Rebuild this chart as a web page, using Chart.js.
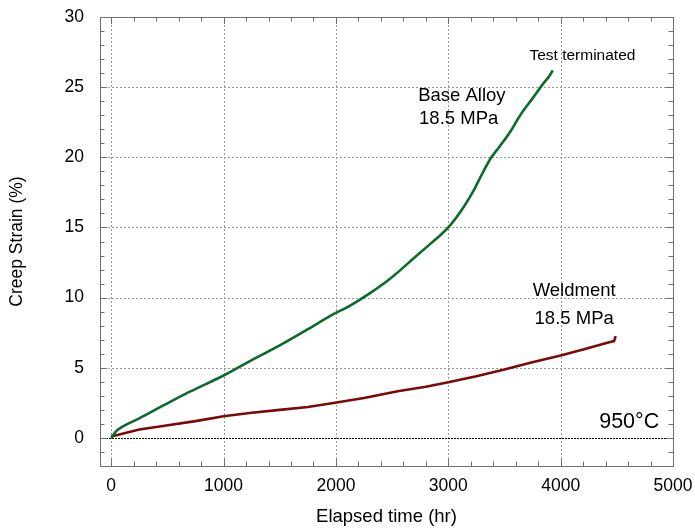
<!DOCTYPE html>
<html>
<head>
<meta charset="utf-8">
<script src="https://cdn.jsdelivr.net/npm/chart.js@4/dist/chart.umd.min.js"></script>
<style>
  body { margin: 0; background: #fff; }
  #wrap { width: 695px; height: 529px; }
</style>
</head>
<body>
<div id="wrap"><canvas id="creepChart" width="695" height="529"></canvas></div>
<script>
// elapsed time (hr) / creep strain (%)
const baseHours = [0, 40, 100, 250, 460, 700, 1000, 1250, 1500, 1750, 1950, 2130, 2300, 2490, 2720, 2850, 3000, 3140, 3230, 3300, 3375, 3450, 3550, 3640, 3750, 3840, 3900, 3930];
const baseStrain = [0, 0.45, 0.8, 1.4, 2.3, 3.3, 4.45, 5.55, 6.6, 7.75, 8.7, 9.45, 10.3, 11.4, 13.0, 13.9, 15.0, 16.5, 17.7, 18.8, 19.9, 20.7, 21.8, 23.0, 24.2, 25.2, 25.8, 26.2];

const weldHours = [0, 250, 460, 750, 1000, 1250, 1500, 1750, 1950, 2250, 2550, 2800, 3000, 3250, 3500, 3730, 4000, 4200, 4440, 4475, 4490];
const weldStrain = [0.1, 0.6, 0.85, 1.2, 1.55, 1.8, 2.0, 2.2, 2.45, 2.85, 3.33, 3.65, 3.97, 4.4, 4.88, 5.36, 5.88, 6.3, 6.83, 6.9, 7.26];

const xTicks = [0, 1000, 2000, 3000, 4000, 5000];
const yTicks = [0, 5, 10, 15, 20, 25, 30];

const notes = [
  { text: 'Test terminated', x: 3722, y: 27.26, size: 15.5 },
  { text: 'Base Alloy', x: 2732, y: 24.4, size: 18.5 },
  { text: '18.5 MPa', x: 2740, y: 22.74, size: 18.5 },
  { text: 'Weldment', x: 3751, y: 10.47, size: 18.5 },
  { text: '18.5 MPa', x: 3768, y: 8.5, size: 18.5 },
  { text: '950\u00B0C', x: 4877, y: 1.14, size: 21.5, align: 'right' }
];

const FONT = '"Liberation Sans", Arial, sans-serif';

function toPoints(xs, ys) {
  return xs.map((v, i) => ({ x: v, y: ys[i] }));
}

// grid, zero line and inward ticks on all four sides
const framePlugin = {
  id: 'framePlugin',
  beforeDatasetsDraw(chart) {
    const { ctx, chartArea: a, scales: { x, y } } = chart;
    const seg = (x1, y1, x2, y2) => { ctx.beginPath(); ctx.moveTo(x1, y1); ctx.lineTo(x2, y2); ctx.stroke(); };
    ctx.save();
    ctx.lineWidth = 1;
    ctx.strokeStyle = '#9a9a9a';
    ctx.setLineDash([2, 2]);
    xTicks.forEach(v => {
      const px = Math.round(x.getPixelForValue(v)) + 0.5;
      seg(px, a.top, px, a.bottom);
    });
    yTicks.forEach(v => {
      if (v === 0) return;
      const py = Math.round(y.getPixelForValue(v)) + 0.5;
      seg(a.left, py, a.right, py);
    });
    ctx.strokeStyle = '#000';
    ctx.setLineDash([2, 1]);
    const zy = Math.round(y.getPixelForValue(0)) + 0.5;
    seg(a.left, zy, a.right, zy);

    ctx.setLineDash([]);
    ctx.strokeStyle = '#6e6e6e';
    for (let v = 0; v <= 5000; v += 200) {
      const px = Math.round(x.getPixelForValue(v)) + 0.5;
      const len = v % 1000 === 0 ? 7 : 4.5;
      seg(px, a.bottom, px, a.bottom - len);
      seg(px, a.top, px, a.top + len);
    }
    for (let v = -2; v <= 30; v += 1) {
      const py = Math.round(y.getPixelForValue(v)) + 0.5;
      const len = v % 5 === 0 ? 7 : 4.5;
      seg(a.left, py, a.left + len, py);
      seg(a.right, py, a.right - len, py);
    }
    ctx.strokeRect(Math.round(a.left) + 0.5, Math.round(a.top) + 0.5,
      Math.round(a.right - a.left), Math.round(a.bottom - a.top));
    ctx.restore();
  },
  afterDatasetsDraw(chart) {
    const { ctx, scales: { x, y } } = chart;
    ctx.save();
    ctx.fillStyle = '#000';
    ctx.textBaseline = 'middle';
    notes.forEach(n => {
      ctx.font = n.size + 'px ' + FONT;
      ctx.textAlign = n.align || 'left';
      ctx.fillText(n.text, x.getPixelForValue(n.x), y.getPixelForValue(n.y));
    });
    ctx.restore();
  }
};

new Chart(document.getElementById('creepChart'), {
  type: 'line',
  data: {
    datasets: [{
      label: 'Base Alloy',
      data: toPoints(baseHours, baseStrain),
      borderColor: '#0c6b2c',
      borderWidth: 2.6,
      pointRadius: 0,
      cubicInterpolationMode: 'monotone'
    }, {
      label: 'Weldment',
      data: toPoints(weldHours, weldStrain),
      borderColor: '#7e0808',
      borderWidth: 2.6,
      pointRadius: 0,
      tension: 0
    }]
  },
  options: {
    responsive: false,
    animation: false,
    layout: { padding: { left: 0, top: 17, right: 22, bottom: 0 } },
    plugins: { legend: { display: false }, tooltip: { enabled: false } },
    scales: {
      x: {
        type: 'linear',
        min: -100,
        max: 5000,
        afterBuildTicks: s => { s.ticks = xTicks.map(v => ({ value: v })); },
        afterFit: s => { s.height = 63; s.paddingLeft = 0; s.paddingRight = 0; },
        grid: { display: false, drawTicks: false },
        border: { display: false },
        ticks: {
          padding: 10,
          color: '#000',
          font: { family: FONT, size: 17.5 },
          callback: v => String(v)
        },
        title: {
          display: true,
          text: 'Elapsed time (hr)',
          color: '#000',
          font: { family: FONT, size: 18.5 },
          padding: { top: 0, bottom: 1 }
        }
      },
      y: {
        type: 'linear',
        min: -2,
        max: 30,
        afterBuildTicks: s => { s.ticks = yTicks.map(v => ({ value: v })); },
        afterFit: s => { s.width = 100; s.paddingTop = 0; s.paddingBottom = 0; },
        grid: { display: false, drawTicks: false },
        border: { display: false },
        ticks: {
          padding: 16,
          color: '#000',
          font: { family: FONT, size: 17.5 },
          callback: v => String(v)
        },
        title: {
          display: true,
          text: 'Creep Strain (%)',
          color: '#000',
          font: { family: FONT, size: 17.5 },
          padding: { top: 7, bottom: 0 }
        }
      }
    }
  },
  plugins: [framePlugin]
});
</script>
</body>
</html>
